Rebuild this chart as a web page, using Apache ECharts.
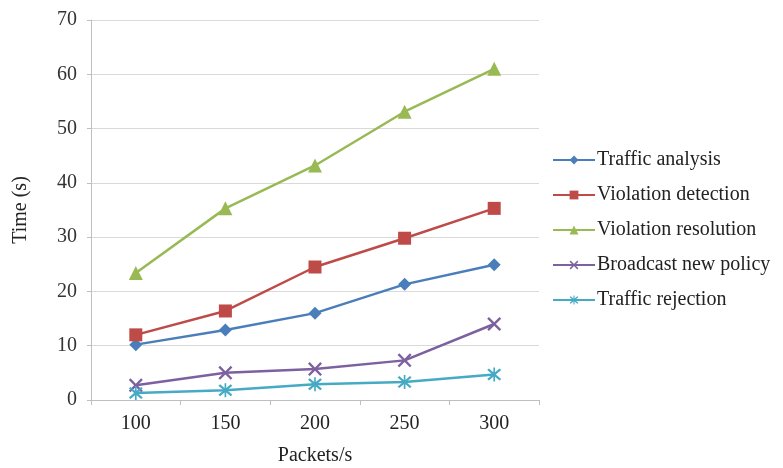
<!DOCTYPE html>
<html>
<head>
<meta charset="utf-8">
<script src="https://cdn.jsdelivr.net/npm/echarts@6/dist/echarts.min.js"></script>
<style>
  html, body { margin: 0; padding: 0; background: #fff; }
  #chart { width: 783px; height: 468px; }
</style>
</head>
<body>
<div id="chart"></div>
<script>
const packets = ['100', '150', '200', '250', '300']
const trafficAnalysis = [10.2, 12.9, 16.0, 21.3, 24.9]
const violationDetection = [12.0, 16.4, 24.5, 29.8, 35.3]
const violationResolution = [23.4, 35.3, 43.2, 53.1, 61.0]
const broadcastPolicy = [2.7, 5.0, 5.7, 7.3, 14.0]
const trafficRejection = [1.3, 1.8, 2.9, 3.3, 4.7]

const X_PATH = 'path://M0,1.2L1.2,0L5,3.8L8.8,0L10,1.2L6.2,5L10,8.8L8.8,10L5,6.2L1.2,10L0,8.8L3.8,5Z'
const STAR_PATH = 'path://M0,1.2L1.2,0L5,3.8L8.8,0L10,1.2L6.2,5L10,8.8L8.8,10L5,6.2L1.2,10L0,8.8L3.8,5ZM4.4,-0.8L5.6,-0.8L5.6,10.8L4.4,10.8Z'

const font = '"Liberation Serif", "DejaVu Serif", serif'

function line(name, data, color, symbol, size) {
  return {
    name, type: 'line', data,
    symbol, symbolSize: size,
    lineStyle: { color, width: 2.5 },
    itemStyle: { color },
    emphasis: { disabled: true },
    animation: false,
  }
}

const chart = echarts.init(document.getElementById('chart'))
chart.setOption({
  backgroundColor: '#fff',
  textStyle: { fontFamily: font },
  grid: { left: 91, top: 20, right: 244, bottom: 68, outerBoundsMode: 'none', containLabel: false },
  legend: {
    orient: 'vertical', left: 547, top: 145,
    itemWidth: 42, itemHeight: 11, itemGap: 15,
    textStyle: { fontFamily: font, fontSize: 20, color: '#222', padding: [0, 0, 0, -3] },
    data: ['Traffic analysis', 'Violation detection', 'Violation resolution', 'Broadcast new policy', 'Traffic rejection'],
  },
  xAxis: {
    type: 'category', data: packets, boundaryGap: true,
    name: 'Packets/s', nameLocation: 'middle', nameGap: 46,
    nameTextStyle: { fontFamily: font, fontSize: 20, color: '#222' },
    axisLine: { lineStyle: { color: '#bfbfbf', width: 1 } },
    axisTick: { show: true, length: 5, lineStyle: { color: '#bfbfbf' } },
    axisLabel: { fontFamily: font, fontSize: 20, color: '#222', margin: 14 },
    splitLine: { show: false },
  },
  yAxis: {
    type: 'value', min: 0, max: 70, interval: 10,
    name: 'Time (s)', nameLocation: 'middle', nameGap: 60, nameRotate: 90,
    nameTextStyle: { fontFamily: font, fontSize: 20, color: '#222' },
    axisLine: { show: true, lineStyle: { color: '#bfbfbf', width: 1 } },
    axisTick: { show: true, length: 4, lineStyle: { color: '#bfbfbf' } },
    axisLabel: { fontFamily: font, fontSize: 20, color: '#333', margin: 14 },
    splitLine: { lineStyle: { color: '#d9d9d9', width: 1 } },
  },
  series: [
    line('Traffic analysis', trafficAnalysis, '#4a7ebb', 'diamond', 13),
    line('Violation detection', violationDetection, '#be4b48', 'rect', 13),
    line('Violation resolution', violationResolution, '#98b954', 'triangle', 14),
    line('Broadcast new policy', broadcastPolicy, '#7d60a0', X_PATH, 14),
    line('Traffic rejection', trafficRejection, '#46aac5', STAR_PATH, 14),
  ],
})
</script>
</body>
</html>
